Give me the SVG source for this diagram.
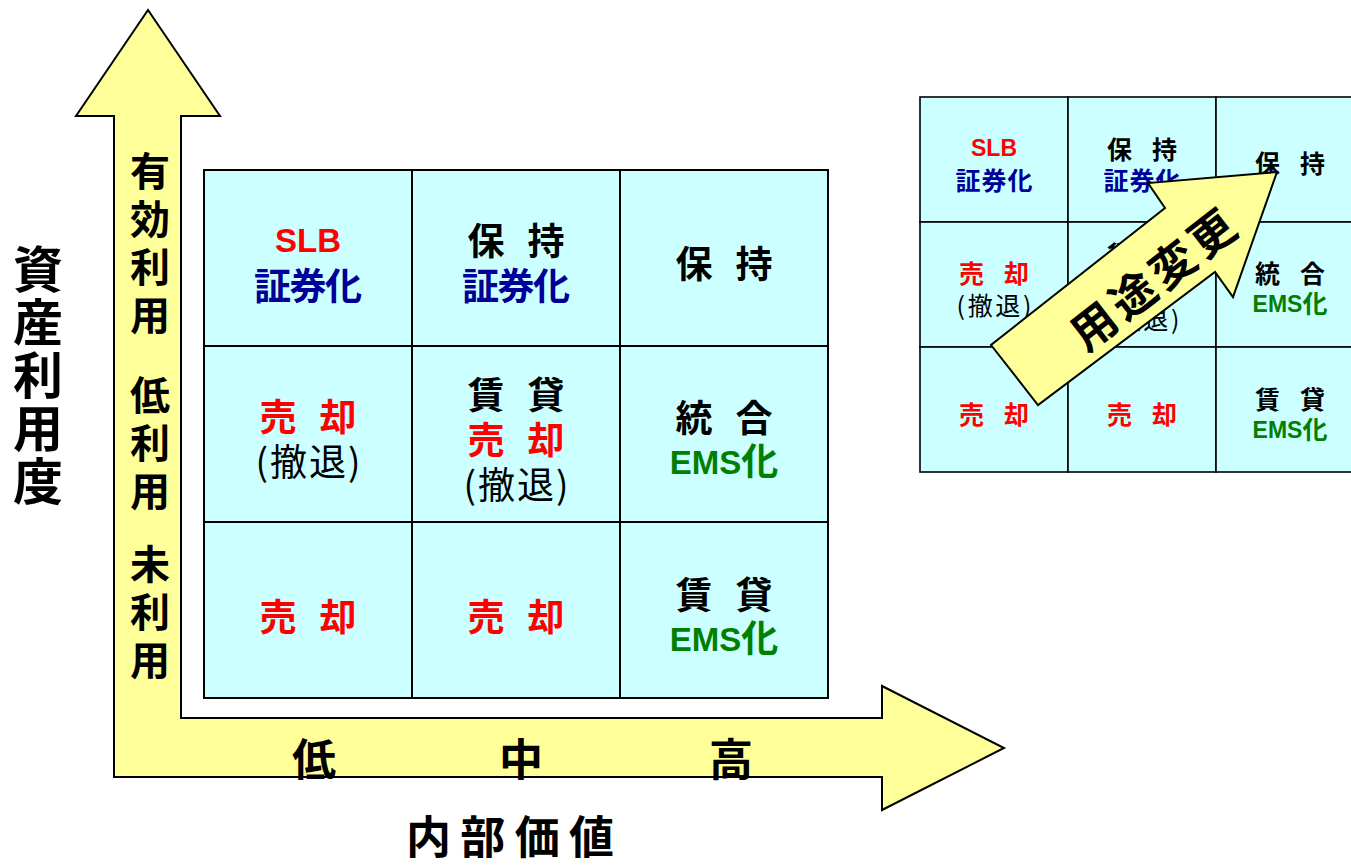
<svg xmlns="http://www.w3.org/2000/svg" width="1351" height="867" viewBox="0 0 1351 867">
<style>
.cell{fill:#CCFFFF;stroke:#000;stroke-width:2}
.scell{fill:#CCFFFF;stroke:#000;stroke-width:1.6}
.t{font-family:"Liberation Sans","Noto Sans CJK JP",sans-serif;font-weight:bold;text-anchor:middle;dominant-baseline:central}
.c{font-family:"Noto Sans CJK JP",sans-serif;font-weight:bold;text-anchor:middle;dominant-baseline:central}
.j{font-family:"Noto Sans CJK JP",sans-serif;font-weight:bold;text-anchor:middle;dominant-baseline:central;fill:#000}
.v{font-family:"Noto Sans CJK JP",sans-serif;font-weight:bold;fill:#000;writing-mode:vertical-rl}
.r{fill:#FF0000}.b{fill:#000099}.g{fill:#008000}.k{fill:#000}
.n{font-weight:normal}
.L{font-size:37px}.Lt{font-size:33px}.S{font-size:25px}.St{font-size:23px}
.arrow{fill:#FFFF99;stroke:#000;stroke-width:2;stroke-linejoin:miter}
</style>
<rect width="1351" height="867" fill="#fff"/>

<g id="axes">
<polygon class="arrow" points="148,10 220,116 181,116 181,718 882,718 882,686 1004,748 882,810 882,777 114,777 114,116 76,116"/>
</g>

<g id="axis-labels">
<text id="y-title" class="v" x="38" y="244" style="font-size:50px;letter-spacing:3px">資産利用度</text>
<text id="y-hi" class="v" x="150" y="151" style="font-size:40px;letter-spacing:8px">有効利用</text>
<text id="y-mid" class="v" x="150" y="375" style="font-size:40px;letter-spacing:8px">低利用</text>
<text id="y-lo" class="v" x="150" y="544" style="font-size:40px;letter-spacing:8px">未利用</text>
<g id="x-ticks" class="j" style="font-size:44px">
<text x="314" y="757">低</text><text x="521" y="757">中</text><text x="731" y="757">高</text>
</g>
<text id="x-title" class="j" x="510" y="834" style="font-size:45px" textLength="208" lengthAdjust="spacing">内部価値</text>
</g>

<g id="main-grid">
<g id="m00"><rect class="cell" x="204" y="170" width="208" height="176"/>
<text class="t Lt r" x="308" y="240">SLB</text><text class="c L b" x="308" y="284" textLength="108">証券化</text></g>
<g id="m01"><rect class="cell" x="412" y="170" width="208" height="176"/>
<text class="c L k" x="516" y="239" textLength="97">保　持</text><text class="c L b" x="516" y="284" textLength="108">証券化</text></g>
<g id="m02"><rect class="cell" x="620" y="170" width="208" height="176"/>
<text class="c L k" x="724" y="262" textLength="97">保　持</text></g>
<g id="m10"><rect class="cell" x="204" y="346" width="208" height="176"/>
<text class="c L r" x="308" y="415" textLength="97">売　却</text><text class="c L k n" x="308" y="460" textLength="105">(撤退)</text></g>
<g id="m11"><rect class="cell" x="412" y="346" width="208" height="176"/>
<text class="c L k" x="516" y="393" textLength="97">賃　貸</text><text class="c L r" x="516" y="438" textLength="97">売　却</text><text class="c L k n" x="516" y="483" textLength="105">(撤退)</text></g>
<g id="m12"><rect class="cell" x="620" y="346" width="208" height="176"/>
<text class="c L k" x="724" y="416" textLength="97">統　合</text><text class="t Lt g" x="724" y="462">EMS<tspan style="font-size:37px">化</tspan></text></g>
<g id="m20"><rect class="cell" x="204" y="522" width="208" height="176"/>
<text class="c L r" x="308" y="615" textLength="97">売　却</text></g>
<g id="m21"><rect class="cell" x="412" y="522" width="208" height="176"/>
<text class="c L r" x="516" y="615" textLength="97">売　却</text></g>
<g id="m22"><rect class="cell" x="620" y="522" width="208" height="176"/>
<text class="c L k" x="724" y="593" textLength="97">賃　貸</text><text class="t Lt g" x="724" y="639">EMS<tspan style="font-size:37px">化</tspan></text></g>
</g>

<g id="small-grid">
<g id="s00"><rect class="scell" x="920" y="97" width="148" height="125"/>
<text class="t St r" x="994" y="148">SLB</text><text class="c S b" x="994" y="179" textLength="77">証券化</text></g>
<g id="s01"><rect class="scell" x="1068" y="97" width="148" height="125"/>
<text class="c S k" x="1142" y="148" textLength="70">保　持</text><text class="c S b" x="1142" y="179" textLength="77">証券化</text></g>
<g id="s02"><rect class="scell" x="1216" y="97" width="148" height="125"/>
<text class="c S k" x="1290" y="162" textLength="70">保　持</text></g>
<g id="s10"><rect class="scell" x="920" y="222" width="148" height="125"/>
<text class="c S r" x="994" y="272" textLength="70">売　却</text><text class="c S k n" x="994" y="304" textLength="75">(撤退)</text></g>
<g id="s11"><rect class="scell" x="1068" y="222" width="148" height="125"/>
<text class="c S k" x="1142" y="253" textLength="70">賃　貸</text><text class="c S r" x="1142" y="286" textLength="70">売　却</text><text class="c S k n" x="1142" y="318" textLength="75">(撤退)</text></g>
<g id="s12"><rect class="scell" x="1216" y="222" width="148" height="125"/>
<text class="c S k" x="1290" y="272" textLength="70">統　合</text><text class="t St g" x="1290" y="304">EMS<tspan style="font-size:25px">化</tspan></text></g>
<g id="s20"><rect class="scell" x="920" y="347" width="148" height="125"/>
<text class="c S r" x="994" y="413" textLength="70">売　却</text></g>
<g id="s21"><rect class="scell" x="1068" y="347" width="148" height="125"/>
<text class="c S r" x="1142" y="413" textLength="70">売　却</text></g>
<g id="s22"><rect class="scell" x="1216" y="347" width="148" height="125"/>
<text class="c S k" x="1290" y="398" textLength="70">賃　貸</text><text class="t St g" x="1290" y="430">EMS<tspan style="font-size:25px">化</tspan></text></g>
</g>

<g id="connectors">
<g id="change-arrow">
<polygon class="arrow" points="991,345 1038,405 1215,272 1233,297 1277,172 1148,183 1165,208"/>
<text class="j" transform="translate(1153,276) rotate(-38)" style="font-size:45px;letter-spacing:5px">用途変更</text>
</g>
</g>
</svg>
